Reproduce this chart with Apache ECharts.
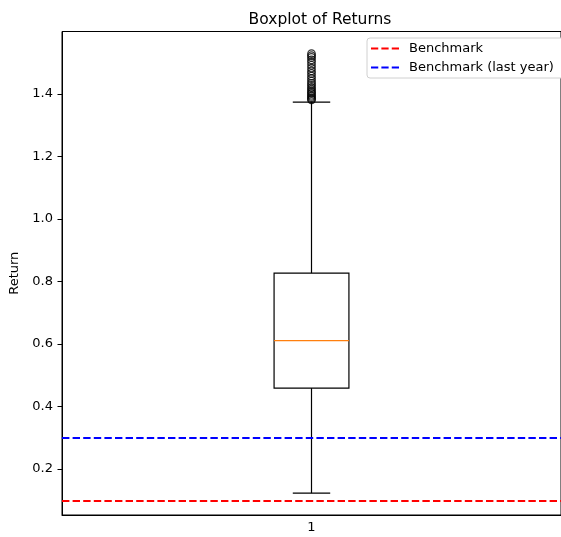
<!DOCTYPE html>
<html>
<head>
<meta charset="utf-8">
<script src="https://cdn.jsdelivr.net/npm/echarts@6/dist/echarts.min.js"></script>
<style>
  html, body { margin: 0; padding: 0; background: #fff; overflow: hidden; }
  #chart { width: 561px; height: 537px; }
</style>
</head>
<body>
<div id="chart"></div>
<script>
// Box summary for the single return group: [whiskerLow, q1, median, q3, whiskerHigh]
const categories = ['1'];
const boxStats = [0.123, 0.459, 0.611, 0.827, 1.374];
// Observations beyond the upper whisker
const outliers = [1.381, 1.384, 1.388, 1.392, 1.396, 1.401, 1.405, 1.41, 1.416, 1.421, 1.428, 1.434, 1.441, 1.449, 1.457, 1.466, 1.474, 1.483, 1.492, 1.501, 1.509, 1.517, 1.523, 1.529];
// Reference levels
const benchmark = 0.1;
const benchmarkLastYear = 0.3;
const yTicks = [0.2, 0.4, 0.6, 0.8, 1.0, 1.2, 1.4];

const FONT = 'DejaVu Sans';
const DASH = [7.4, 3.2];
// Legend key: three short dashes
const DASH_ICON = 'path://M0,0h7.4v2h-7.4z M10.6,0h7.4v2h-7.4z M21.2,0h7.4v2h-7.4z';
const chart = echarts.init(document.getElementById('chart'), null, { renderer: 'canvas' });

function renderBox(params, api) {
  const x = api.value(0);
  const low = api.coord([x, api.value(1)]);
  const q1 = api.coord([x, api.value(2)]);
  const med = api.coord([x, api.value(3)]);
  const q3 = api.coord([x, api.value(4)]);
  const high = api.coord([x, api.value(5)]);
  const band = api.size([1, 0])[0];
  const halfBox = band * 0.15 / 2;
  const halfCap = halfBox / 2;
  const cx = low[0];
  const stroke = { stroke: '#000', lineWidth: 1.2, fill: null };
  return {
    type: 'group',
    children: [
      { type: 'line', shape: { x1: cx, y1: q1[1], x2: cx, y2: low[1] }, style: stroke },
      { type: 'line', shape: { x1: cx, y1: q3[1], x2: cx, y2: high[1] }, style: stroke },
      { type: 'line', shape: { x1: cx - halfCap, y1: low[1], x2: cx + halfCap, y2: low[1] }, style: stroke },
      { type: 'line', shape: { x1: cx - halfCap, y1: high[1], x2: cx + halfCap, y2: high[1] }, style: stroke },
      { type: 'rect', shape: { x: cx - halfBox, y: q3[1], width: halfBox * 2, height: q1[1] - q3[1] }, style: stroke },
      { type: 'line', shape: { x1: cx - halfBox, y1: med[1], x2: cx + halfBox, y2: med[1] }, style: { stroke: '#ff7f0e', lineWidth: 1.3 } }
    ]
  };
}

chart.setOption({
  animation: false,
  backgroundColor: '#fff',
  title: {
    text: 'Boxplot of Returns',
    left: 315,
    top: 7,
    textAlign: 'center',
    textStyle: { fontFamily: FONT, fontSize: 15.5, fontWeight: 'normal', color: '#000' }
  },
  legend: {
    left: 367,
    top: 38,
    orient: 'vertical',
    icon: DASH_ICON,
    itemWidth: 28,
    itemHeight: 14,
    itemGap: 6,
    padding: [4, 40, 4, 4],
    backgroundColor: '#fff',
    borderColor: '#d0d0d0',
    borderWidth: 1,
    borderRadius: 3,
    textStyle: { fontFamily: FONT, fontSize: 13, color: '#000', padding: [0, 0, 0, 5] },
    data: ['Benchmark', 'Benchmark (last year)']
  },
  grid: {
    left: 61,
    right: -8,
    top: 31.5,
    bottom: 22,
    show: true,
    borderColor: '#000',
    borderWidth: 1,
    containLabel: false
  },
  xAxis: {
    type: 'category',
    data: categories,
    boundaryGap: true,
    axisLine: { lineStyle: { color: '#000', width: 1 } },
    axisTick: { alignWithLabel: true, length: 4.5, lineStyle: { color: '#000' } },
    axisLabel: { fontFamily: FONT, fontSize: 13, color: '#000', margin: 6 },
    splitLine: { show: false }
  },
  yAxis: {
    type: 'value',
    min: 0.053,
    max: 1.6,
    name: 'Return',
    nameLocation: 'middle',
    nameRotate: 90,
    nameGap: 41,
    nameTextStyle: { fontFamily: FONT, fontSize: 13, color: '#000' },
    axisLine: { show: true, lineStyle: { color: '#000', width: 1 } },
    axisTick: { show: true, length: 4.5, lineStyle: { color: '#000' }, customValues: yTicks },
    axisLabel: {
      fontFamily: FONT, fontSize: 13, color: '#000', margin: 9,
      customValues: yTicks,
      formatter: v => v.toFixed(1)
    },
    splitLine: { show: false }
  },
  series: [
    {
      type: 'custom',
      name: 'box',
      renderItem: renderBox,
      data: [[0].concat(boxStats)],
      encode: { x: 0, y: [1, 2, 3, 4, 5] },
      z: 3
    },
    {
      type: 'scatter',
      name: 'outliers',
      data: outliers.map(v => [0, v]),
      symbol: 'circle',
      symbolSize: 7.5,
      itemStyle: { color: 'rgba(255,255,255,0)', borderColor: '#000', borderWidth: 1.2 },
      z: 4
    },
    {
      type: 'line',
      name: 'Benchmark',
      data: [],
      symbol: 'none',
      lineStyle: { color: '#ff0000', width: 2, type: DASH },
      itemStyle: { color: '#ff0000' },
      markLine: {
        silent: true,
        symbol: 'none',
        label: { show: false },
        lineStyle: { color: '#ff0000', width: 2, type: DASH },
        data: [{ yAxis: benchmark }]
      }
    },
    {
      type: 'line',
      name: 'Benchmark (last year)',
      data: [],
      symbol: 'none',
      lineStyle: { color: '#0000ff', width: 2, type: DASH },
      itemStyle: { color: '#0000ff' },
      markLine: {
        silent: true,
        symbol: 'none',
        label: { show: false },
        lineStyle: { color: '#0000ff', width: 2, type: DASH },
        data: [{ yAxis: benchmarkLastYear }]
      }
    }
  ]
});
</script>
</body>
</html>
